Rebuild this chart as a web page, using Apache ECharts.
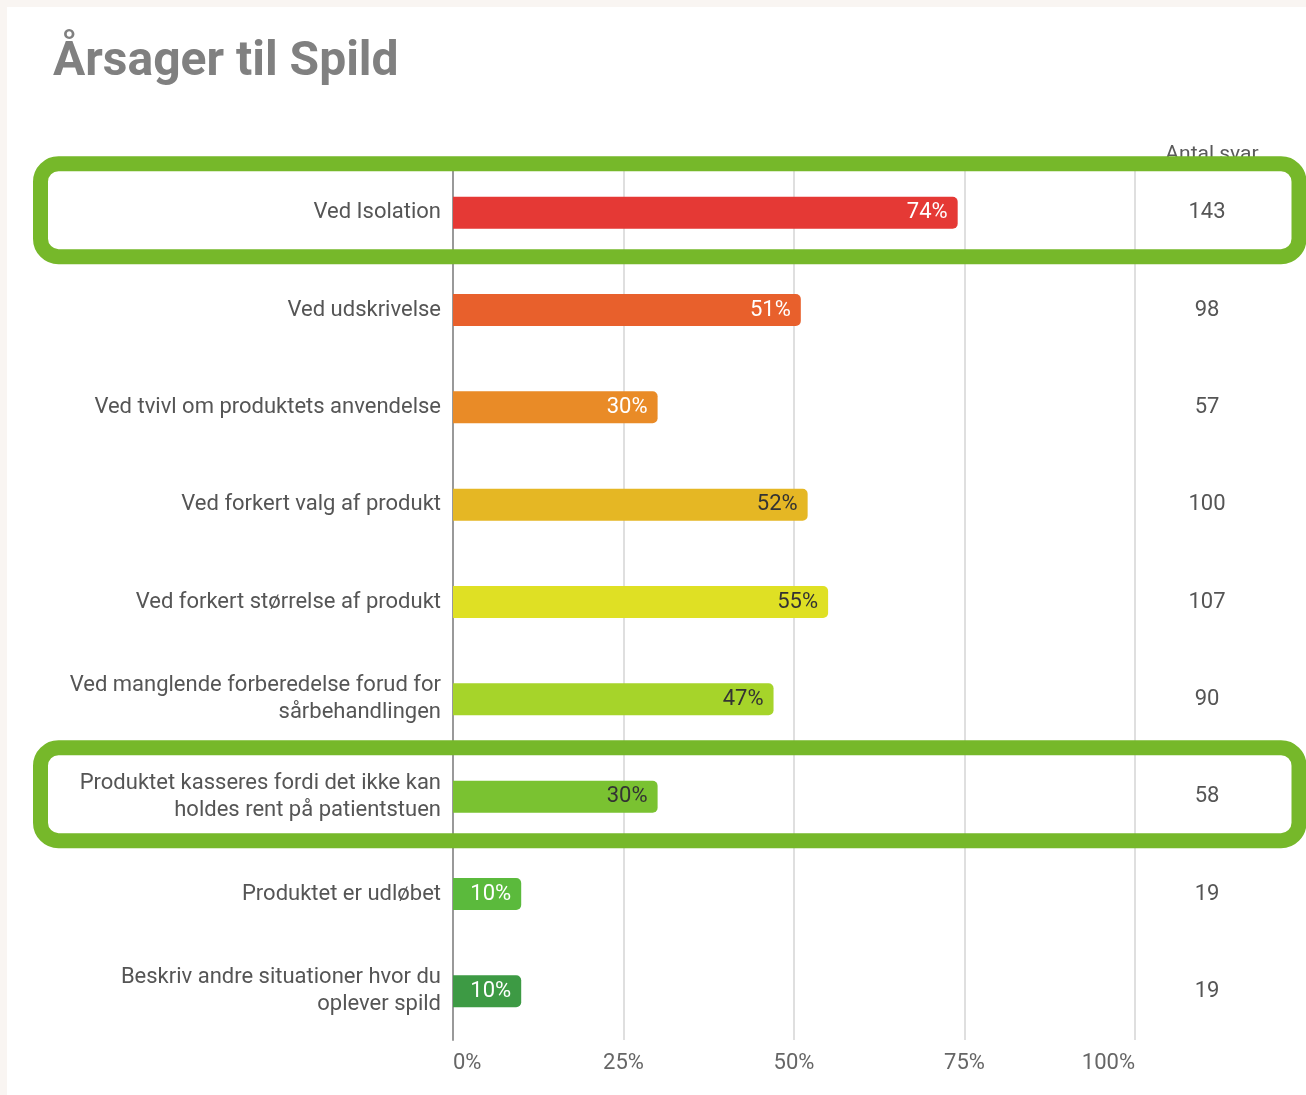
<!DOCTYPE html>
<html>
<head>
<meta charset="utf-8">
<script src="https://cdn.jsdelivr.net/npm/echarts@6/dist/echarts.min.js"></script>
<style>
  html, body { margin: 0; padding: 0; background: #f9f5f2; }
  #chart { position: absolute; left: 7px; top: 7px; width: 1299px; height: 1088px; background: #fff; }
</style>
</head>
<body>
<div id="chart"></div>
<script>
// data
const categories = [
  "Ved Isolation",
  "Ved udskrivelse",
  "Ved tvivl om produktets anvendelse",
  "Ved forkert valg af produkt",
  "Ved forkert størrelse af produkt",
  "Ved manglende forberedelse forud for\nsårbehandlingen",
  "Produktet kasseres fordi det ikke kan\nholdes rent på patientstuen",
  "Produktet er udløbet",
  "Beskriv andre situationer hvor du\noplever spild"
];
const percents = [74, 51, 30, 52, 55, 47, 30, 10, 10];
const answers = [143, 98, 57, 100, 107, 90, 58, 19, 19];
const highlighted = [0, 6];

// styling
const barColors = ["#e53935", "#e8602c", "#e98b27", "#e5b724", "#dfe024", "#a6d42a", "#7ac231", "#5bba3c", "#3d9a44"];
const labelColors = ["#fff", "#fff", "#fff", "#333", "#333", "#333", "#333", "#fff", "#fff"];

const chart = echarts.init(document.getElementById("chart"));

let option = {
  backgroundColor: "#fff",
  animation: false,
  textStyle: { fontFamily: "Roboto" },
  title: [
    {
      text: "Årsager til Spild",
      left: 41,
      top: 27,
      textStyle: { fontFamily: "Roboto", fontSize: 48, fontWeight: "bold", color: "#808080" }
    },
    {
      text: "Antal svar",
      left: 1200,
      textAlign: "center",
      top: 132,
      textStyle: { fontFamily: "Roboto", fontSize: 21, fontWeight: "normal", color: "#5a5a5a" }
    }
  ],
  grid: { left: 446, right: 171, top: 157, bottom: 55 },
  xAxis: {
    type: "value",
    min: 0,
    max: 100,
    interval: 25,
    axisLine: { show: false },
    axisTick: { show: false },
    splitLine: { show: true, lineStyle: { color: "#d4d4d4", width: 1.5 } },
    axisLabel: {
      formatter: "{value}%",
      margin: 12,
      fontSize: 22,
      color: "#666",
      alignMinLabel: "left",
      alignMaxLabel: "right"
    }
  },
  yAxis: [
    {
      type: "category",
      inverse: true,
      data: categories,
      axisLine: { show: true, lineStyle: { color: "#999", width: 2 } },
      axisTick: { show: false },
      axisLabel: { fontSize: 22, color: "#555", margin: 12, lineHeight: 27, align: "right", padding: [5, 0, 0, 0] }
    },
    {
      type: "category",
      inverse: true,
      position: "right",
      data: answers,
      axisLine: { show: false },
      axisTick: { show: false },
      axisLabel: { fontSize: 22, color: "#555", margin: 72, align: "center", padding: [5, 0, 0, 0] }
    }
  ],
  series: [
    {
      type: "bar",
      barWidth: 32,
      data: percents.map((v, i) => ({
        value: v,
        itemStyle: { color: barColors[i], borderRadius: [0, 5, 5, 0] },
        label: { color: labelColors[i] }
      })),
      label: {
        show: true,
        position: "insideRight",
        distance: 10,
        formatter: "{c}%",
        fontSize: 22,
        padding: [4, 0, 0, 0]
      }
    }
  ]
};

chart.setOption(option);

// green highlight frames around selected rows
const frames = highlighted.map(idx => {
  const cy = chart.convertToPixel({ yAxisIndex: 0 }, categories[idx]);
  return {
    type: "rect",
    z: 100,
    shape: { x: 33.5, y: cy - 49, width: 1258.5, height: 93, r: 18 },
    style: { fill: "none", stroke: "#76b82a", lineWidth: 15 }
  };
});

chart.setOption({ graphic: frames });

window.addEventListener("resize", () => {
  chart.resize();
});
</script>
</body>
</html>
